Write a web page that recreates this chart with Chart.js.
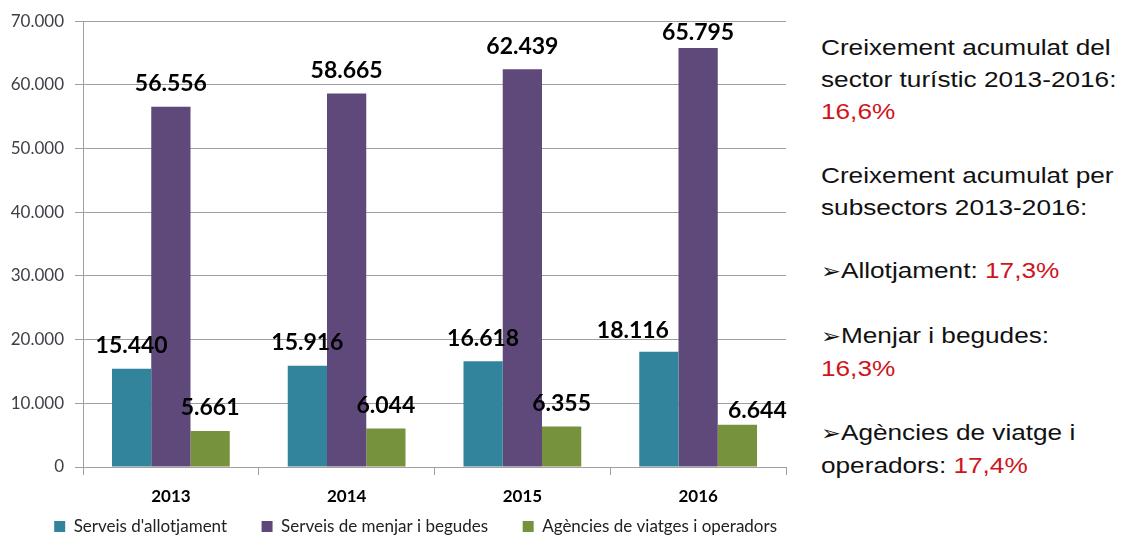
<!DOCTYPE html>
<html>
<head>
<meta charset="utf-8">
<script src="https://cdn.jsdelivr.net/npm/chart.js@4"></script>
<style>
  body { margin: 0; background: #fff; }
  #wrap { position: absolute; left: 0; top: 0; width: 800px; height: 537px; }
  #notes {
    position: absolute; left: 821px; top: 32px;
    font-family: 'Liberation Sans', Arial, sans-serif; font-size: 22px;
    line-height: 31.9px; color: #111; white-space: nowrap;
    transform: scaleX(1.19); transform-origin: left top;
  }
  #notes .red { color: #d0141c; }
  #notes .arrow { font-family: 'DejaVu Sans'; font-size: 20px; }
</style>
</head>
<body>
<div id="wrap"><canvas id="myChart"></canvas></div>
<div id="notes">
  <div>Creixement acumulat del</div>
  <div>sector turístic 2013-2016:</div>
  <div class="red">16,6%</div>
  <div>&nbsp;</div>
  <div>Creixement acumulat per</div>
  <div>subsectors 2013-2016:</div>
  <div>&nbsp;</div>
  <div><span class="arrow">➢</span>Allotjament: <span class="red">17,3%</span></div>
  <div>&nbsp;</div>
  <div><span class="arrow">➢</span>Menjar i begudes:</div>
  <div class="red">16,3%</div>
  <div>&nbsp;</div>
  <div><span class="arrow">➢</span>Agències de viatge i</div>
  <div>operadors: <span class="red">17,4%</span></div>
</div>
<script>
const years = ['2013', '2014', '2015', '2016']
const allotjament = [15440, 15916, 16618, 18116]
const menjar = [56556, 58665, 62439, 65795]
const agencies = [5661, 6044, 6355, 6644]
const yTicks = [0, 10000, 20000, 30000, 40000, 50000, 60000, 70000]

// thousands with a dot, as in the original (5.661, 70.000)
const fmt = (v) => String(v).replace(/\B(?=(\d{3})+(?!\d))/g, '.')

// labels above bars, with a few hand nudges like the source slide
const barLabels = {
  id: 'barLabels',
  afterDatasetsDraw: (chart, args, opts) => {
    const ctx = chart.ctx
    ctx.save()
    ctx.font = 'bold 23px Lato'
    ctx.fillStyle = '#000'
    ctx.textAlign = 'center'
    ctx.textBaseline = 'middle'
    chart.data.datasets.forEach((ds, di) => {
      chart.getDatasetMeta(di).data.forEach((bar, i) => {
        const nudge = opts.nudges[di + '-' + i] || [0, 0]
        ctx.fillText(fmt(ds.data[i]), bar.x + nudge[0], bar.y - 23 + nudge[1])
      })
    })
    ctx.restore()
  },
}

// wider gaps between legend items without the big vertical padding
const legendLabels = (chart) => {
  const items = Chart.defaults.plugins.legend.labels.generateLabels(chart)
  items.forEach((item, i) => {
    if (i < items.length - 1) item.text += '\u2002\u2002\u2002'
  })
  return items
}

const config = {
  type: 'bar',
  data: {
    labels: years,
    datasets: [
      { label: "Serveis d'allotjament", data: allotjament, backgroundColor: '#31849b' },
      { label: 'Serveis de menjar i begudes', data: menjar, backgroundColor: '#5f497a' },
      { label: 'Agències de viatges i operadors', data: agencies, backgroundColor: '#76923c' },
    ],
  },
  options: {
    responsive: true,
    maintainAspectRatio: false,
    animation: false,
    layout: { padding: { top: 21, right: 14, left: 0, bottom: -8 } },
    datasets: { bar: { categoryPercentage: 0.67, barPercentage: 1 } },
    scales: {
      x: {
        grid: { display: true, drawOnChartArea: false, tickLength: 8, color: '#a0a0a0', offset: true },
        border: { color: '#a0a0a0' },
        ticks: { color: '#000', font: { family: 'Lato', size: 17, weight: 'bold' }, padding: 11 },
        afterFit: (scale) => { scale.height = 42 },
      },
      y: {
        min: 0,
        max: 70000,
        afterBuildTicks: (scale) => { scale.ticks = yTicks.map((v) => ({ value: v })) },
        grid: { color: '#a0a0a0', tickLength: 8 },
        border: { color: '#a0a0a0' },
        ticks: {
          color: '#3d4048',
          font: { family: 'Lato', size: 17 },
          padding: 11,
          callback: (v) => fmt(v),
        },
        afterFit: (scale) => { scale.width = 83 },
      },
    },
    plugins: {
      legend: {
        position: 'bottom',
        align: 'end',
        labels: {
          boxWidth: 11,
          boxHeight: 11,
          padding: 9,
          color: '#222',
          font: { family: 'Lato', size: 17 },
          generateLabels: legendLabels,
        },
      },
      tooltip: { enabled: false },
      barLabels: {
        nudges: { '0-3': [-26, 2], '1-3': [0, 8], '2-3': [20, 9] },
      },
    },
  },
  plugins: [barLabels],
}

const myChart = new Chart(document.getElementById('myChart'), config)
</script>
</body>
</html>
